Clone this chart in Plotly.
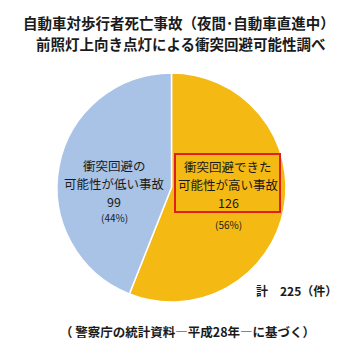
import plotly.graph_objects as go

categories = ["衝突回避できた可能性が高い事故", "衝突回避の可能性が低い事故"]
values = [126, 99]
percents = ["(56%)", "(44%)"]
label_lines = [["衝突回避できた", "可能性が高い事故"], ["衝突回避の", "可能性が低い事故"]]
colors = ["#f4b913", "#a9c3e7"]
total_label = "計　225（件）"
title_lines = ["自動車対歩行者死亡事故（夜間･自動車直進中）", "前照灯上向き点灯による衝突回避可能性調べ"]
footnote = "（ 警察庁の統計資料―平成28年―に基づく）"

W, H = 358, 352
FONT = "Noto Sans CJK JP"

fig = go.Figure(go.Pie(
    labels=categories, values=values, sort=False, direction="clockwise", rotation=0,
    marker=dict(colors=colors, line=dict(color="white", width=1.5)),
    textinfo="none", hoverinfo="label+value+percent", showlegend=False,
    domain=dict(x=[57/W, 286/W], y=[(H-303)/H, (H-72)/H]),
))

def px(x, y):
    return x / W, 1 - y / H

anns = []
def add(xp, yp, text, size, bold=False):
    x, y = px(xp, yp)
    if bold:
        text = f"<b>{text}</b>"
    anns.append(dict(x=x, y=y, text=text, showarrow=False,
                     font=dict(size=size, color="#1a1a1a", family=FONT),
                     xanchor="center", yanchor="middle"))

# Title
add(179, 23, title_lines[0], 14.5, True)
add(181, 43, title_lines[1], 14.5, True)
# Blue label
add(114, 165, label_lines[1][0], 12.5)
add(114, 183, label_lines[1][1], 12.5)
add(114, 201, str(values[1]), 12.5)
add(114, 218, percents[1], 10)
# Yellow label
add(228, 166, label_lines[0][0], 12.5)
add(228, 184, label_lines[0][1], 12.5)
add(228, 202, str(values[0]), 12.5)
add(228, 224, percents[0], 10)
# Total
add(296, 290, total_label, 12, True)
# Footnote
add(187, 331, footnote, 12.5, True)

fig.update_layout(width=W, height=H, margin=dict(l=0, r=0, t=0, b=0),
                  paper_bgcolor="white", plot_bgcolor="white", annotations=anns,
                  shapes=[dict(type="rect", xref="paper", yref="paper",
                               x0=175/W, x1=280/W, y0=1-212/H, y1=1-154/H,
                               line=dict(color="#e0201b", width=2))])
fig.write_html("out.html")
